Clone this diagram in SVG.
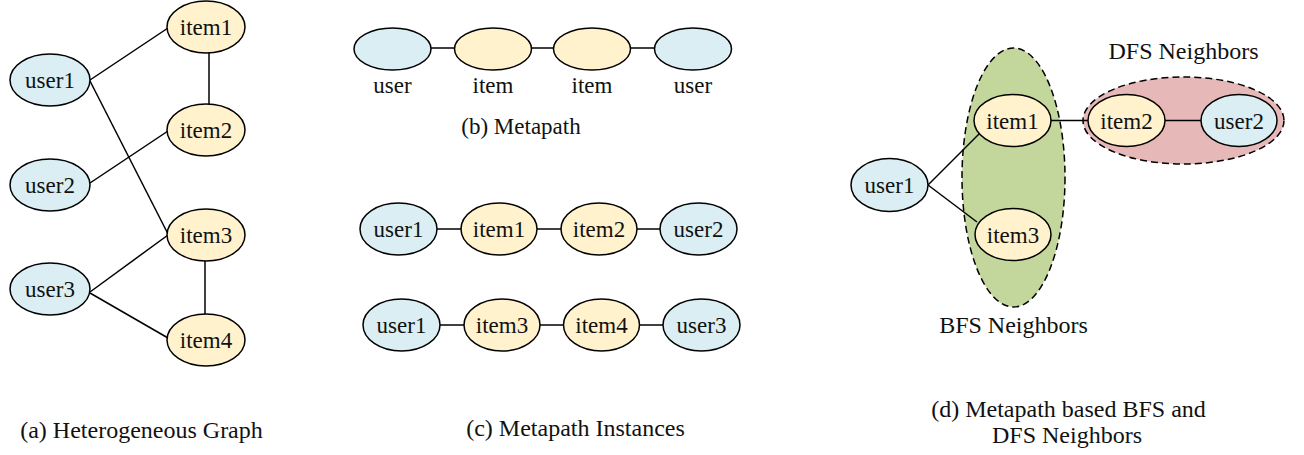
<svg xmlns="http://www.w3.org/2000/svg" width="1304" height="455" viewBox="0 0 1304 455">
<style>
text{font-family:'Liberation Serif','DejaVu Serif',serif;font-size:23px;fill:#111;text-anchor:middle}
.u{fill:#DAEEF3;stroke:#000;stroke-width:1.5}
.i{fill:#FFF2CC;stroke:#000;stroke-width:1.5}
.e{stroke:#000;stroke-width:1.5;fill:none}
.cap{font-size:24px}
.reg{stroke:#000;stroke-width:1.5;stroke-dasharray:7,4}
</style>
<rect width="1304" height="455" fill="#fff"/>
<g id="bfs-region">
<ellipse class="reg" cx="1013.5" cy="177.5" rx="51.5" ry="129.5" fill="#C3D69B"/>
<text class="cap" x="1013.5" y="333">BFS Neighbors</text>
</g>
<g id="dfs-region">
<ellipse class="reg" cx="1183.5" cy="120.5" rx="100.5" ry="43.5" fill="#E6B9B8"/>
<text class="cap" x="1183.5" y="59">DFS Neighbors</text>
</g>
<g id="connectors">
<line class="e" x1="90" y1="80" x2="168" y2="28"/>
<line class="e" x1="90" y1="81" x2="168" y2="234"/>
<line class="e" x1="90" y1="183" x2="168" y2="131"/>
<line class="e" x1="90" y1="292" x2="168" y2="235"/>
<line class="e" x1="90" y1="293" x2="168" y2="338"/>
<line class="e" x1="209" y1="52" x2="209" y2="104"/>
<line class="e" x1="205" y1="261" x2="205" y2="314"/>
<line class="e" x1="431" y1="48" x2="454" y2="48"/>
<line class="e" x1="532" y1="48" x2="553" y2="48"/>
<line class="e" x1="631" y1="48" x2="654" y2="48"/>
<line class="e" x1="437" y1="229" x2="461" y2="229"/>
<line class="e" x1="537" y1="229" x2="561" y2="229"/>
<line class="e" x1="637" y1="229" x2="660" y2="229"/>
<line class="e" x1="440" y1="325" x2="464" y2="325"/>
<line class="e" x1="540" y1="325" x2="563" y2="325"/>
<line class="e" x1="640" y1="325" x2="663" y2="325"/>
<line class="e" x1="928" y1="185" x2="979" y2="134"/>
<line class="e" x1="928" y1="185" x2="977" y2="222"/>
<line class="e" x1="1051" y1="120.5" x2="1088" y2="120.5"/>
<line class="e" x1="1165" y1="120.5" x2="1201" y2="120.5"/>
</g>
<g id="a-user1"><ellipse class="u" cx="50" cy="80" rx="40" ry="26"/><text x="50" y="88">user1</text></g>
<g id="a-user2"><ellipse class="u" cx="50" cy="185" rx="40" ry="26"/><text x="50" y="193">user2</text></g>
<g id="a-user3"><ellipse class="u" cx="50" cy="289" rx="40" ry="26"/><text x="50" y="297">user3</text></g>
<g id="a-item1"><ellipse class="i" cx="206" cy="27" rx="39" ry="26"/><text x="206" y="35">item1</text></g>
<g id="a-item2"><ellipse class="i" cx="206" cy="130" rx="39" ry="26"/><text x="206" y="138">item2</text></g>
<g id="a-item3"><ellipse class="i" cx="206" cy="235" rx="39" ry="26"/><text x="206" y="243">item3</text></g>
<g id="a-item4"><ellipse class="i" cx="206" cy="340" rx="39" ry="26"/><text x="206" y="348">item4</text></g>
<text class="cap" x="141.5" y="438">(a) Heterogeneous Graph</text>
<g id="b-user-1"><ellipse class="u" cx="392.5" cy="49" rx="38.5" ry="21"/><text x="392.5" y="93">user</text></g>
<g id="b-item-1"><ellipse class="i" cx="493" cy="49" rx="38.5" ry="21"/><text x="493" y="93">item</text></g>
<g id="b-item-2"><ellipse class="i" cx="592" cy="49" rx="38.5" ry="21"/><text x="592" y="93">item</text></g>
<g id="b-user-2"><ellipse class="u" cx="693" cy="49" rx="38.5" ry="21"/><text x="693" y="93">user</text></g>
<text x="521" y="134" font-size="23">(b) Metapath</text>
<g id="c1-user1"><ellipse class="u" cx="398.5" cy="229" rx="38.5" ry="26"/><text x="398.5" y="237">user1</text></g>
<g id="c1-item1"><ellipse class="i" cx="499" cy="229" rx="38" ry="26"/><text x="499" y="237">item1</text></g>
<g id="c1-item2"><ellipse class="i" cx="599" cy="229" rx="38" ry="26"/><text x="599" y="237">item2</text></g>
<g id="c1-user2"><ellipse class="u" cx="698.5" cy="229" rx="38.5" ry="26"/><text x="698.5" y="237">user2</text></g>
<g id="c2-user1"><ellipse class="u" cx="401.5" cy="325" rx="38.5" ry="26"/><text x="401.5" y="333">user1</text></g>
<g id="c2-item3"><ellipse class="i" cx="502" cy="325" rx="38" ry="26"/><text x="502" y="333">item3</text></g>
<g id="c2-item4"><ellipse class="i" cx="601.5" cy="325" rx="38" ry="26"/><text x="601.5" y="333">item4</text></g>
<g id="c2-user3"><ellipse class="u" cx="701.5" cy="325" rx="38.5" ry="26"/><text x="701.5" y="333">user3</text></g>
<text class="cap" x="575.5" y="436">(c) Metapath Instances</text>
<g id="d-user1"><ellipse class="u" cx="889.5" cy="185" rx="38.5" ry="26.5"/><text x="889.5" y="193">user1</text></g>
<g id="d-item1"><ellipse class="i" cx="1012.5" cy="120.5" rx="38.5" ry="26"/><text x="1012.5" y="128.5">item1</text></g>
<g id="d-item3"><ellipse class="i" cx="1013" cy="234.5" rx="38" ry="26"/><text x="1013" y="242.5">item3</text></g>
<g id="d-item2"><ellipse class="i" cx="1126.5" cy="120.5" rx="38.5" ry="26"/><text x="1126.5" y="128.5">item2</text></g>
<g id="d-user2"><ellipse class="u" cx="1239" cy="120.5" rx="38" ry="26"/><text x="1239" y="128.5">user2</text></g>
<text class="cap" x="1068.5" y="417">(d) Metapath based BFS and</text>
<text class="cap" x="1067" y="443">DFS Neighbors</text>
</svg>
